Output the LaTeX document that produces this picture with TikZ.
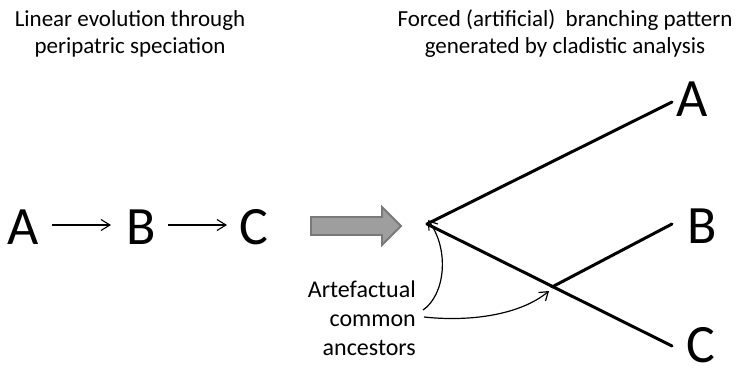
\documentclass[tikz,border=0pt]{standalone}
\usepackage{fontspec}
\setmainfont{Carlito}
\usetikzlibrary{arrows.meta}
\begin{document}
\begin{tikzpicture}[x=1pt,y=-1pt,
  title/.style={font=\fontsize{23}{27}\selectfont, align=center, inner sep=0pt},
  big/.style={font=\fontsize{54}{54}\selectfont, inner sep=0pt},
  thinarrow/.style={line width=1.1pt, -{Straight Barb[length=9pt,width=11pt,line width=1.1pt]}},
  curvearrow/.style={line width=1.2pt, -{Straight Barb[length=8pt,width=11pt,line width=1.2pt]}},
  branch/.style={line width=3pt},
  lab/.style={font=\fontsize{24}{29}\selectfont, align=right, inner sep=0pt}]
\useasboundingbox (0,0) rectangle (743,371);
% titles
\node[title] (t1) at (130,34) {Linear evolution through\\peripatric speciation};
\node[title] (t2) at (565,34) {Forced (artificial)\ \ branching pattern\\generated by cladistic analysis};
% linear
\node[big] (A1) at (23,227) {A};
\node[big] (B1) at (141,227) {B};
\node[big] (C1) at (254,227) {C};
\draw[thinarrow] (52,225) coordinate (a0) -- (111,225) coordinate (a1);
\draw[thinarrow] (168,225) coordinate (b0) -- (227,225) coordinate (b1);
% big gray arrow
\draw[draw=gray!95!black, line width=1.8pt, fill=black!38, line join=miter]
  (311,217) -- (382,217) -- (382,207) -- (401,226) -- (382,245) -- (382,235) -- (311,235) -- cycle;
% tree
\coordinate (root) at (427,224);
\coordinate (br) at (552,287);
\node[big, anchor=west] (A2) at (676,99) {A};
\node[big, anchor=west] (B2) at (687,226) {B};
\node[big, anchor=west] (C2) at (686,345) {C};
\draw[branch, line cap=round] (root) -- (672,102) coordinate (eA);
\draw[branch, line cap=round] (root) -- (672,346) coordinate (eC);
\draw[branch, line cap=round] (br) -- (672,224) coordinate (eB);
% label
\node[lab, anchor=east] (lb) at (416,318) {Artefactual\\common\\ancestors};
\coordinate (s1) at ([xshift=7pt,yshift=8pt]lb.east);
\coordinate (s2) at ([xshift=8pt,yshift=1pt]lb.east);
\draw[curvearrow] (s1) .. controls (445,295) and (450,250) .. ([shift={(1pt,4pt)}]root);
\draw[curvearrow] (s2) .. controls (470,322) and (520,315) .. ([shift={(-3pt,-4pt)}]br);
\end{tikzpicture}
\end{document}
